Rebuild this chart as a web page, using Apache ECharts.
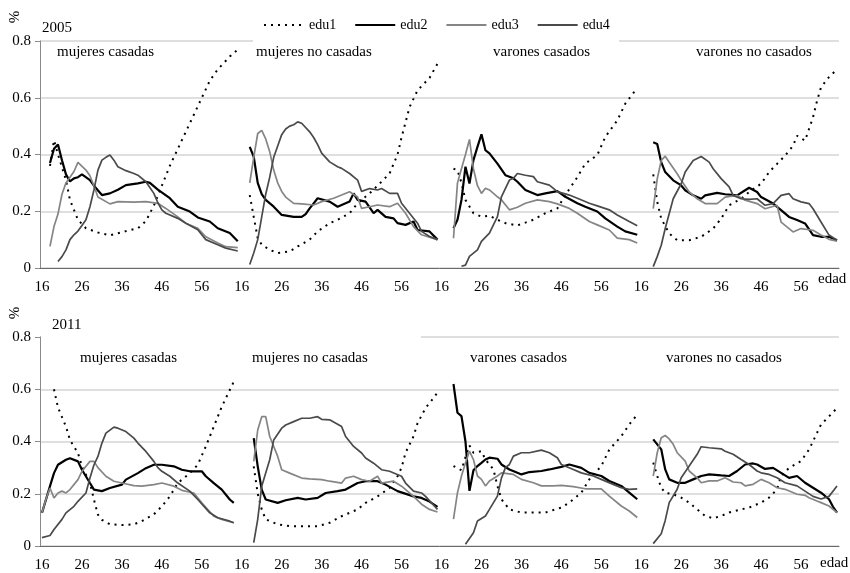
<!DOCTYPE html>
<html><head><meta charset="utf-8">
<script src="https://cdn.jsdelivr.net/npm/echarts@6/dist/echarts.min.js"></script>
<style>html,body{margin:0;padding:0;background:#fff}#c{width:850px;height:573px}</style>
</head><body><div id="c"></div>
<script>
// ---- axis / label data ----
const AGE_FIRST = 16, AGE_LAST = 65;              // ages of one panel
const xLabelAges = [16, 26, 36, 46, 56];          // tick labels shown in each panel
const yTicks = [0, 0.2, 0.4, 0.6, 0.8];
const eduNames = ['edu1', 'edu2', 'edu3', 'edu4'];
const panelTitles = ['mujeres casadas', 'mujeres no casadas', 'varones casados', 'varones no casados'];
const years = ['2005', '2011'];

// ---- 2005 : [age, share] ----
const mc05_edu1 = [[18,.36],[19,.45],[20,.40],[22,.31],[23,.24],[25,.17],[27,.14],[30,.125],[33,.115],[37,.13],[40,.14],[42,.165],[44,.22],[46,.29],[48,.36],[50,.42],[53,.51],[56,.60],[58,.66],[60,.70],[63,.745],[65,.77]];
const mc05_edu2 = [[18,.37],[19,.42],[20,.435],[21,.38],[22,.33],[23,.305],[24,.316],[25,.32],[26,.33],[28,.31],[29,.29],[31,.257],[33,.263],[35,.276],[37,.292],[40,.298],[42,.304],[43,.30],[45,.276],[48,.246],[50,.216],[53,.199],[55,.178],[58,.164],[60,.14],[63,.123],[65,.094]];
const mc05_edu3 = [[18,.076],[19,.146],[20,.19],[21,.26],[22,.30],[23,.32],[24,.34],[25,.372],[27,.345],[28,.325],[29,.29],[30,.25],[33,.226],[35,.234],[39,.232],[42,.234],[45,.228],[47,.21],[50,.18],[52,.158],[55,.14],[57,.11],[60,.088],[62,.075],[65,.072]];
const mc05_edu4 = [[20,.023],[21,.04],[22,.064],[23,.10],[24,.117],[25,.13],[26,.15],[27,.17],[28,.216],[29,.275],[30,.345],[31,.38],[32,.39],[33,.398],[34,.38],[35,.357],[37,.343],[39,.333],[40,.327],[42,.304],[44,.263],[45,.23],[46,.205],[47,.193],[50,.175],[52,.158],[55,.135],[57,.10],[60,.082],[62,.07],[65,.06]];

const mn05_edu1 = [[18,.257],[19,.18],[20,.105],[21,.082],[23,.064],[25,.053],[28,.058],[30,.076],[33,.10],[35,.129],[38,.158],[40,.17],[43,.193],[45,.228],[48,.263],[50,.29],[53,.333],[55,.40],[56,.46],[58,.567],[60,.626],[63,.67],[65,.72]];
const mn05_edu2 = [[18,.427],[19,.392],[20,.30],[21,.26],[22,.24],[24,.216],[26,.187],[29,.18],[31,.18],[32,.19],[33,.21],[34,.228],[35,.246],[38,.234],[40,.216],[43,.234],[44,.263],[45,.24],[47,.234],[49,.193],[50,.205],[52,.18],[54,.175],[55,.158],[57,.152],[59,.164],[60,.134],[63,.129],[65,.10]];
const mn05_edu3 = [[18,.30],[19,.39],[20,.474],[21,.485],[22,.455],[23,.41],[24,.345],[25,.30],[26,.27],[27,.25],[29,.228],[31,.226],[34,.222],[36,.234],[39,.246],[41,.257],[43,.269],[45,.25],[46,.21],[48,.216],[50,.222],[53,.216],[55,.228],[57,.193],[59,.146],[61,.117],[65,.10]];
const mn05_edu4 = [[18,.012],[19,.053],[20,.10],[21,.18],[22,.26],[23,.32],[24,.39],[25,.43],[26,.47],[27,.49],[28,.50],[29,.505],[30,.515],[31,.51],[33,.48],[34,.46],[35,.435],[36,.405],[38,.374],[40,.357],[41,.351],[43,.333],[45,.31],[46,.27],[48,.28],[50,.275],[51,.28],[53,.263],[55,.263],[56,.228],[58,.193],[60,.158],[61,.129],[63,.111],[65,.10]];

const vc05_edu1 = [[19,.35],[20,.345],[21,.30],[22,.24],[24,.193],[26,.181],[28,.184],[30,.17],[32,.158],[35,.15],[39,.17],[42,.193],[45,.21],[47,.257],[50,.32],[52,.368],[55,.398],[57,.462],[60,.52],[62,.579],[65,.635]];
const vc05_edu2 = [[19,.14],[20,.17],[21,.24],[22,.357],[23,.298],[24,.38],[25,.427],[26,.471],[27,.415],[28,.404],[30,.368],[32,.327],[34,.316],[35,.304],[37,.275],[40,.257],[42,.263],[45,.271],[47,.251],[50,.228],[52,.216],[55,.199],[57,.175],[60,.146],[62,.129],[65,.117]];
const vc05_edu3 = [[19,.105],[20,.30],[21,.35],[22,.40],[23,.453],[24,.35],[25,.29],[26,.263],[27,.281],[28,.275],[30,.251],[31,.24],[33,.205],[35,.214],[37,.228],[40,.24],[43,.234],[45,.226],[48,.21],[50,.193],[53,.164],[55,.152],[58,.134],[60,.105],[63,.10],[65,.088]];
const vc05_edu4 = [[21,.006],[22,.01],[23,.041],[25,.064],[26,.094],[28,.123],[30,.181],[31,.251],[33,.31],[34,.316],[35,.333],[37,.327],[39,.322],[40,.304],[43,.292],[45,.269],[48,.257],[50,.246],[53,.228],[55,.219],[58,.205],[60,.187],[63,.164],[65,.149]];

const vn05_edu1 = [[19,.33],[20,.233],[21,.174],[23,.122],[25,.098],[28,.098],[31,.11],[34,.139],[36,.174],[38,.221],[41,.244],[43,.268],[46,.297],[48,.338],[50,.367],[52,.396],[54,.431],[55,.466],[57,.449],[58,.49],[59,.531],[60,.589],[61,.637],[63,.673],[65,.70]];
const vn05_edu2 = [[19,.443],[20,.437],[21,.373],[22,.338],[24,.309],[26,.291],[27,.274],[29,.256],[31,.244],[32,.256],[35,.265],[37,.26],[40,.256],[42,.274],[43,.283],[45,.268],[46,.25],[49,.227],[51,.204],[53,.18],[55,.169],[57,.157],[59,.116],[61,.11],[63,.11],[65,.098]];
const vn05_edu3 = [[19,.209],[20,.314],[21,.379],[22,.394],[23,.373],[25,.332],[26,.309],[28,.268],[30,.244],[32,.227],[35,.227],[37,.25],[40,.256],[42,.239],[45,.227],[47,.209],[50,.221],[51,.162],[54,.127],[56,.139],[59,.133],[61,.116],[63,.101],[65,.095]];
const vn05_edu4 = [[19,.005],[20,.04],[21,.08],[22,.139],[24,.244],[26,.297],[27,.338],[29,.379],[31,.393],[33,.373],[34,.35],[36,.315],[38,.286],[39,.256],[41,.244],[43,.242],[45,.244],[47,.221],[49,.227],[51,.256],[53,.262],[54,.244],[56,.233],[58,.227],[59,.209],[61,.162],[63,.116],[65,.098]];

// ---- 2011 : [age, share] ----
const mc11_edu1 = [[19,.60],[20,.53],[22,.457],[23,.406],[25,.356],[26,.305],[28,.241],[29,.178],[30,.12],[31,.10],[33,.083],[36,.08],[39,.083],[41,.095],[44,.121],[46,.152],[48,.19],[50,.241],[53,.279],[55,.311],[57,.381],[59,.457],[61,.533],[63,.597],[64,.629]];
const mc11_edu2 = [[16,.127],[18,.229],[19,.279],[20,.311],[22,.33],[23,.336],[25,.324],[26,.292],[28,.241],[29,.216],[31,.21],[33,.222],[36,.235],[37,.254],[40,.279],[42,.298],[44,.311],[46,.311],[49,.305],[51,.292],[53,.286],[56,.286],[57,.267],[59,.241],[61,.216],[63,.178],[64,.165]];
const mc11_edu3 = [[16,.127],[17,.18],[18,.222],[19,.184],[20,.203],[21,.21],[22,.203],[23,.216],[25,.254],[26,.286],[28,.324],[29,.324],[30,.30],[32,.267],[34,.248],[36,.241],[39,.231],[41,.229],[44,.235],[46,.241],[49,.229],[51,.213],[54,.203],[56,.165],[59,.114],[61,.102],[64,.089]];
const mc11_edu4 = [[16,.032],[18,.04],[19,.063],[21,.102],[22,.127],[24,.152],[25,.171],[27,.203],[28,.26],[29,.31],[30,.343],[31,.394],[32,.432],[34,.455],[35,.451],[37,.438],[39,.413],[40,.394],[42,.362],[44,.324],[45,.30],[46,.286],[48,.267],[50,.241],[53,.21],[55,.178],[58,.127],[60,.108],[63,.095],[64,.089]];

const mn11_edu1 = [[19,.305],[20,.20],[21,.14],[22,.102],[25,.083],[28,.076],[31,.076],[35,.076],[38,.089],[41,.114],[45,.14],[47,.165],[50,.19],[53,.222],[55,.267],[56,.30],[57,.357],[59,.42],[60,.47],[62,.528],[64,.566],[65,.588]];
const mn11_edu2 = [[19,.413],[20,.305],[21,.216],[22,.178],[25,.165],[27,.175],[30,.184],[32,.178],[35,.184],[37,.203],[40,.21],[42,.216],[45,.241],[47,.248],[50,.248],[52,.235],[55,.21],[59,.19],[61,.184],[63,.17],[65,.15]];
const mn11_edu3 = [[19,.324],[20,.444],[21,.495],[22,.495],[23,.419],[25,.343],[26,.292],[28,.279],[31,.26],[33,.257],[36,.254],[38,.248],[41,.241],[42,.26],[44,.267],[46,.254],[48,.248],[50,.267],[51,.241],[54,.248],[56,.229],[59,.19],[61,.16],[63,.14],[65,.13]];
const mn11_edu4 = [[19,.013],[20,.102],[21,.229],[23,.33],[24,.406],[26,.451],[27,.463],[29,.476],[31,.489],[33,.489],[35,.495],[36,.485],[38,.483],[41,.457],[42,.419],[44,.381],[46,.356],[47,.337],[49,.317],[51,.292],[53,.286],[56,.267],[57,.241],[59,.21],[61,.203],[62,.19],[65,.14]];

const vc11_edu1 = [[19,.306],[21,.29],[22,.34],[23,.385],[24,.357],[26,.363],[27,.331],[29,.293],[30,.23],[31,.179],[33,.14],[36,.128],[39,.128],[42,.128],[46,.147],[48,.166],[51,.204],[53,.255],[56,.306],[58,.369],[61,.42],[63,.465],[65,.503]];
const vc11_edu2 = [[19,.62],[20,.51],[21,.497],[22,.40],[23,.211],[24,.29],[25,.306],[26,.318],[27,.331],[28,.338],[30,.334],[31,.312],[33,.293],[35,.28],[36,.274],[38,.283],[41,.287],[43,.293],[46,.303],[48,.312],[51,.299],[53,.28],[56,.268],[58,.249],[61,.23],[63,.204],[65,.179]];
const vc11_edu3 = [[19,.103],[20,.204],[21,.268],[22,.318],[23,.363],[24,.331],[25,.268],[26,.255],[27,.23],[28,.249],[30,.268],[31,.28],[34,.274],[36,.255],[39,.242],[41,.23],[44,.23],[46,.232],[49,.227],[52,.219],[56,.219],[58,.191],[61,.153],[63,.134],[65,.109]];
const vc11_edu4 = [[22,.007],[24,.051],[25,.096],[27,.115],[28,.14],[30,.191],[31,.26],[32,.30],[33,.312],[34,.344],[36,.357],[38,.357],[41,.367],[43,.357],[45,.338],[46,.312],[49,.293],[51,.28],[54,.268],[56,.255],[59,.236],[61,.223],[63,.217],[65,.219]];

const vn11_edu1 = [[19,.319],[20,.268],[21,.223],[22,.204],[24,.198],[26,.185],[28,.166],[30,.14],[32,.115],[34,.106],[36,.115],[38,.128],[41,.14],[43,.147],[46,.166],[48,.185],[50,.217],[51,.268],[53,.299],[56,.325],[58,.369],[60,.433],[61,.465],[63,.496],[65,.528]];
const vn11_edu2 = [[19,.408],[21,.37],[22,.293],[23,.255],[25,.242],[27,.242],[29,.255],[31,.268],[33,.274],[36,.27],[38,.268],[40,.287],[42,.312],[44,.316],[45,.312],[47,.295],[49,.299],[51,.28],[53,.261],[55,.268],[57,.242],[59,.223],[61,.204],[63,.179],[64,.15],[65,.128]];
const vn11_edu3 = [[19,.268],[20,.357],[21,.414],[22,.423],[23,.41],[24,.389],[25,.357],[27,.325],[28,.287],[30,.261],[31,.242],[33,.249],[35,.249],[37,.261],[39,.245],[41,.242],[42,.23],[44,.236],[46,.255],[48,.242],[50,.223],[52,.217],[55,.198],[57,.194],[58,.185],[60,.172],[61,.166],[63,.153],[65,.128]];
const vn11_edu4 = [[19,.009],[21,.047],[22,.098],[23,.166],[25,.217],[26,.261],[28,.306],[30,.351],[31,.38],[33,.376],[36,.372],[37,.363],[39,.351],[41,.331],[43,.312],[45,.287],[46,.28],[48,.274],[50,.261],[52,.242],[55,.23],[57,.21],[59,.19],[61,.18],[63,.19],[65,.23]];

const rows = [
  [[mc05_edu1, mc05_edu2, mc05_edu3, mc05_edu4], [mn05_edu1, mn05_edu2, mn05_edu3, mn05_edu4],
   [vc05_edu1, vc05_edu2, vc05_edu3, vc05_edu4], [vn05_edu1, vn05_edu2, vn05_edu3, vn05_edu4]],
  [[mc11_edu1, mc11_edu2, mc11_edu3, mc11_edu4], [mn11_edu1, mn11_edu2, mn11_edu3, mn11_edu4],
   [vc11_edu1, vc11_edu2, vc11_edu3, vc11_edu4], [vn11_edu1, vn11_edu2, vn11_edu3, vn11_edu4]]
];

// ---- build ----
const FONT = "'Liberation Serif','Times New Roman',serif";
const nAges = AGE_LAST - AGE_FIRST + 1;
const categories = [];
for (let p = 0; p < panelTitles.length; p++)
  for (let a = AGE_FIRST; a <= AGE_LAST; a++) categories.push(String(a));

const lineStyles = [
  { color: '#000', width: 2, type: [2, 5], cap: 'butt' },
  { color: '#000', width: 2.2 },
  { color: '#858585', width: 1.7 },
  { color: '#4a4a4a', width: 1.7 }
];

const grids = [
  { left: 40, top: 41, width: 799, height: 227 },
  { left: 40, top: 337, width: 799, height: 210 }
];

const xAxes = grids.map((g, i) => ({
  type: 'category', gridIndex: i, data: categories, boundaryGap: true,
  axisLine: { lineStyle: { color: '#6a6a6a', width: 1 } },
  axisTick: { interval: 0, length: 4, lineStyle: { color: '#6a6a6a' } },
  axisLabel: {
    interval: (idx, val) => xLabelAges.includes(Number(val)),
    color: '#000', fontFamily: FONT, fontSize: 15, margin: 12
  },
  splitLine: { show: false }
}));

const yAxes = grids.map((g, i) => ({
  type: 'value', gridIndex: i, min: yTicks[0], max: yTicks[yTicks.length - 1], interval: 0.2,
  axisLine: { show: true, lineStyle: { color: '#8a8a8a' } },
  axisTick: { show: true, length: 5, lineStyle: { color: '#8a8a8a' } },
  axisLabel: { color: '#000', fontFamily: FONT, fontSize: 15, margin: 9,
    formatter: v => (Math.abs(v) < 1e-9 ? '0' : v.toFixed(1)) },
  splitLine: { lineStyle: { color: '#d4d4d4', width: 1.5 } }
}));

const series = [];
rows.forEach((row, r) => row.forEach((panel, p) => panel.forEach((arr, e) => {
  series.push({
    name: eduNames[e], type: 'line', xAxisIndex: r, yAxisIndex: r,
    symbol: 'none', silent: true, animation: false, connectNulls: false,
    lineStyle: lineStyles[e], itemStyle: { color: lineStyles[e].color },
    data: arr.map(([age, v]) => [p * nAges + age - AGE_FIRST, v])
  });
})));

const txt = (x, y, text, extra) => Object.assign({
  type: 'text', x, y, z: 60,
  style: { text, font: "15px 'Liberation Serif', serif", fill: '#000', verticalAlign: 'middle' }
}, extra || {});

const titleLefts = [[57, 256, 493, 696], [80, 252, 470, 666]];
const titleYs = [52, 358];
const graphics = [
  { type: 'rect', shape: { x: 253, y: 38, width: 366, height: 6 }, style: { fill: '#fff' }, z: 50 },
  { type: 'rect', shape: { x: 41, y: 334, width: 380, height: 6 }, style: { fill: '#fff' }, z: 50 },
  txt(15, 17, '%', { rotation: Math.PI / 2, style: { text: '%', font: "15px 'Liberation Serif', serif", fill: '#000', align: 'center', verticalAlign: 'middle' } }),
  txt(15, 313, '%', { rotation: Math.PI / 2, style: { text: '%', font: "15px 'Liberation Serif', serif", fill: '#000', align: 'center', verticalAlign: 'middle' } }),
  txt(42, 28, years[0]),
  txt(52, 325, years[1]),
  txt(818, 279, 'edad'),
  txt(820, 563, 'edad')
];
titleLefts.forEach((lefts, r) => lefts.forEach((x, p) => graphics.push(txt(x, titleYs[r], panelTitles[p]))));

const chart = echarts.init(document.getElementById('c'), null, { renderer: 'canvas' });
chart.setOption({
  animation: false,
  backgroundColor: '#fff',
  grid: grids,
  xAxis: xAxes,
  yAxis: yAxes,
  legend: {
    data: eduNames, left: 263, top: 18, padding: 0, itemWidth: 40, itemHeight: 14, itemGap: 18,
    itemStyle: { opacity: 0 },
    textStyle: { fontFamily: FONT, fontSize: 14, color: '#000' }, selectedMode: false
  },
  graphic: graphics,
  series
});
</script></body></html>
